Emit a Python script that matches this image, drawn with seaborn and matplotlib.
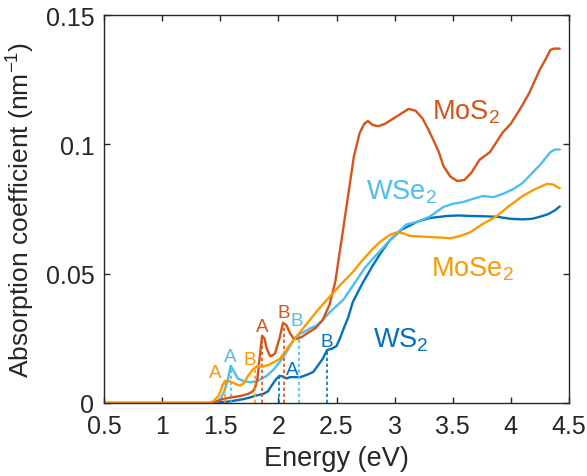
import matplotlib
matplotlib.use("Agg")
import matplotlib.pyplot as plt
import seaborn as sns

# absorption spectra (energy in eV, coefficient in nm^-1)
mos2_e = [0.5, 1.40, 1.46, 1.52, 1.60, 1.67, 1.74, 1.78, 1.80, 1.82, 1.84, 1.86, 1.88, 1.90, 1.93,
          1.97, 2.01, 2.04, 2.07, 2.10, 2.13, 2.16, 2.20, 2.25, 2.32, 2.38, 2.44, 2.49, 2.56, 2.65,
          2.70, 2.74, 2.77, 2.81, 2.86, 2.92, 2.99, 3.06, 3.12, 3.18, 3.24, 3.28, 3.33, 3.38, 3.42,
          3.48, 3.54, 3.60, 3.66, 3.73, 3.82, 3.93, 4.00, 4.08, 4.16, 4.25, 4.30, 4.34, 4.37, 4.42]
mos2_a = [0, 0, 0.0005, 0.0015, 0.0022, 0.0027, 0.0035, 0.0045, 0.006, 0.0095, 0.018, 0.026, 0.025,
          0.021, 0.018, 0.019, 0.025, 0.031, 0.030, 0.027, 0.025, 0.0248, 0.0255, 0.027, 0.029, 0.032,
          0.038, 0.047, 0.068, 0.0955, 0.1045, 0.108, 0.109, 0.1075, 0.107, 0.108, 0.110, 0.112, 0.1137,
          0.113, 0.110, 0.1066, 0.102, 0.097, 0.0916, 0.0875, 0.0858, 0.0862, 0.089, 0.094, 0.097,
          0.1046, 0.108, 0.1137, 0.12, 0.129, 0.133, 0.1365, 0.137, 0.137]

wse2_e = [0.5, 1.42, 1.47, 1.50, 1.53, 1.56, 1.59, 1.62, 1.65, 1.70, 1.76, 1.82, 1.90, 1.96, 2.01,
          2.06, 2.10, 2.14, 2.18, 2.22, 2.28, 2.33, 2.38, 2.44, 2.50, 2.56, 2.62, 2.68, 2.74, 2.81,
          2.88, 2.96, 3.03, 3.10, 3.19, 3.30, 3.42, 3.50, 3.59, 3.68, 3.76, 3.85, 3.94, 4.02, 4.10,
          4.16, 4.25, 4.34, 4.38, 4.42]
wse2_a = [0, 0, 0.0005, 0.0015, 0.004, 0.008, 0.0144, 0.012, 0.0095, 0.0085, 0.008, 0.0085, 0.0105,
          0.013, 0.0158, 0.019, 0.022, 0.025, 0.0266, 0.0275, 0.029, 0.030, 0.032, 0.035, 0.0375,
          0.040, 0.044, 0.048, 0.052, 0.0557, 0.059, 0.063, 0.066, 0.069, 0.070, 0.072, 0.0758,
          0.077, 0.0777, 0.079, 0.080, 0.0796, 0.081, 0.0827, 0.085, 0.0878, 0.092, 0.097, 0.098, 0.098]

mose2_e = [0.5, 1.40, 1.44, 1.48, 1.50, 1.52, 1.54, 1.57, 1.60, 1.64, 1.67, 1.70, 1.74, 1.78, 1.82,
           1.86, 1.92, 2.01, 2.10, 2.18, 2.25, 2.34, 2.44, 2.54, 2.64, 2.72, 2.81, 2.88, 2.96, 3.02,
           3.08, 3.13, 3.25, 3.38, 3.48, 3.56, 3.65, 3.75, 3.88, 3.98, 4.10, 4.20, 4.31, 4.36, 4.42]
mose2_a = [0, 0, 0.0007, 0.0025, 0.0042, 0.007, 0.0085, 0.0085, 0.008, 0.0072, 0.0067, 0.0075, 0.0105,
           0.013, 0.0143, 0.014, 0.0148, 0.017, 0.0225, 0.027, 0.031, 0.036, 0.041, 0.046, 0.0506,
           0.055, 0.0595, 0.0625, 0.065, 0.066, 0.0655, 0.0646, 0.0643, 0.064, 0.0637, 0.0645, 0.066,
           0.069, 0.0723, 0.076, 0.080, 0.0825, 0.0847, 0.0845, 0.083]

ws2_e = [0.5, 1.40, 1.50, 1.61, 1.70, 1.76, 1.82, 1.87, 1.91, 1.94, 1.98, 2.01, 2.04, 2.07, 2.10,
         2.19, 2.25, 2.30, 2.34, 2.38, 2.42, 2.46, 2.50, 2.53, 2.56, 2.60, 2.64, 2.72, 2.81, 2.88,
         2.96, 3.06, 3.19, 3.30, 3.45, 3.55, 3.65, 3.76, 3.88, 4.00, 4.10, 4.18, 4.25, 4.32, 4.38, 4.42]
ws2_a = [0, 0, 0.0002, 0.0008, 0.0015, 0.0022, 0.003, 0.0035, 0.0045, 0.0066, 0.0092, 0.0105, 0.0102,
         0.0095, 0.0100, 0.0100, 0.011, 0.012, 0.0145, 0.017, 0.0205, 0.021, 0.022, 0.025, 0.0286,
         0.033, 0.039, 0.046, 0.053, 0.058, 0.063, 0.067, 0.070, 0.0715, 0.0723, 0.0725, 0.0723,
         0.0722, 0.072, 0.0712, 0.071, 0.0712, 0.072, 0.073, 0.0745, 0.076]

# exciton peaks A / B: energy and height of the dotted marker
mos2_peaks = [(1.86, 0.026), (2.05, 0.031)]
wse2_peaks = [(1.59, 0.0144), (2.18, 0.0266)]
mose2_peaks = [(1.54, 0.0085), (1.80, 0.014)]
ws2_peaks = [(2.005, 0.0105), (2.42, 0.021)]

# where the A / B letters sit (x, baseline y)
mos2_ab = [(1.86, 0.0277), (2.05, 0.0332)]
wse2_ab = [(1.59, 0.0161), (2.16, 0.0300)]
mose2_ab = [(1.455, 0.0100), (1.75, 0.0152)]
ws2_ab = [(2.115, 0.0113), (2.42, 0.0222)]

# curve names (left x, baseline y)
names = {"MoS$_2$": (3.32, 0.110), "WSe$_2$": (2.75, 0.0790),
         "MoSe$_2$": (3.31, 0.0494), "WS$_2$": (2.81, 0.0217)}

col = {"MoS$_2$": "#D95319", "WSe$_2$": "#4DBEEE", "MoSe$_2$": "#FF9900", "WS$_2$": "#0072BD"}

sns.set_style("ticks")
plt.rcParams["font.family"] = ["Liberation Sans", "DejaVu Sans"]
plt.rcParams["mathtext.default"] = "regular"

fig = plt.figure(figsize=(5.87, 4.77), dpi=100)
ax = fig.add_axes([104 / 587, 73 / 477, 465 / 587, 388 / 477])

series = [("WS$_2$", ws2_e, ws2_a, ws2_peaks, ws2_ab),
          ("WSe$_2$", wse2_e, wse2_a, wse2_peaks, wse2_ab),
          ("MoS$_2$", mos2_e, mos2_a, mos2_peaks, mos2_ab),
          ("MoSe$_2$", mose2_e, mose2_a, mose2_peaks, mose2_ab)]

for name, e, a, peaks, ab in series:
    c = col[name]
    sns.lineplot(x=e, y=a, ax=ax, color=c, linewidth=1.7, estimator=None, sort=False)
    for (pe, pa) in peaks:
        ax.vlines(pe, 0, pa, colors=c, linestyles=(0, (2, 1.6)), linewidth=1.2)
    for (lx, ly), letter in zip(ab, ["A", "B"]):
        ax.text(lx, ly, letter, color=c, fontsize=13.5, ha="center", va="baseline")
    nx, ny = names[name]
    ax.text(nx, ny, name, color=c, fontsize=19.5, ha="left", va="baseline")

ax.set_xlim(0.5, 4.5)
ax.set_ylim(0, 0.15)
ax.set_xticks([0.5, 1, 1.5, 2, 2.5, 3, 3.5, 4, 4.5])
ax.set_xticklabels(["0.5", "1", "1.5", "2", "2.5", "3", "3.5", "4", "4.5"])
ax.set_yticks([0, 0.05, 0.1, 0.15])
ax.set_yticklabels(["0", "0.05", "0.1", "0.15"])
ax.tick_params(direction="in", top=True, right=True, length=4, width=1,
               labelsize=18, colors="#262626", labelcolor="#262626")
ax.tick_params(axis="x", pad=8)
ax.tick_params(axis="y", pad=7)
for s in ax.spines.values():
    s.set_visible(True)
    s.set_color("#262626")
    s.set_linewidth(1)

ax.set_xlabel("Energy (eV)", fontsize=19.5, color="#262626", labelpad=5)
ax.set_ylabel("Absorption coefficient (nm$^{-1}$)", fontsize=19, color="#262626", labelpad=6)

fig.savefig("out.png", dpi=100)
